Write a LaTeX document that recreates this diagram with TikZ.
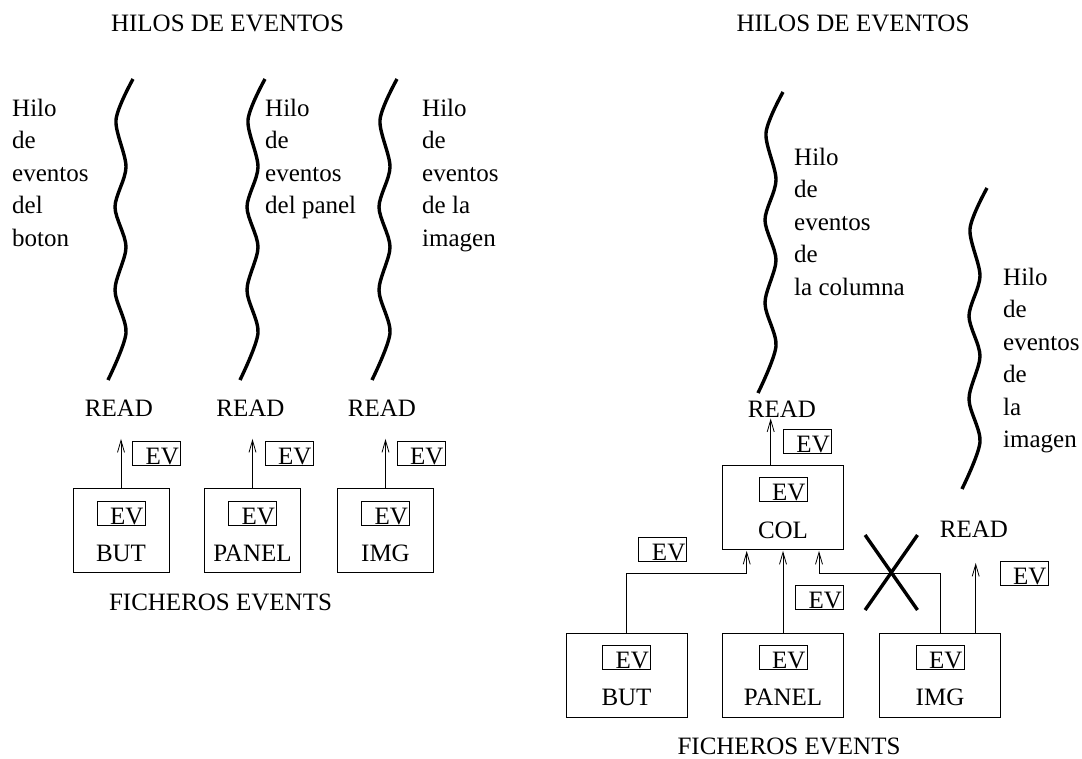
\documentclass[tikz,border=0pt]{standalone}
\usepackage{fontspec}
\setmainfont{Liberation Serif}
\usepackage{tikz}
\usetikzlibrary{
  arrows.meta,
  positioning,
  shapes.misc
}
\tikzset{
  evbox/.style={draw, line width=0.8pt, inner xsep=1.5pt, inner ysep=0pt,
    text width=45pt, align=right, text height=23pt, text depth=1pt},
  filebox/.style={draw, line width=0.8pt, inner sep=0pt,
    minimum width=#1, minimum height=84pt},
  filebox/.default=96pt,
  tag/.style={inner sep=0pt},
  flow/.style={line width=0.8pt, -{Straight Barb[length=12pt,width=7pt]}},
  wavy/.style={line width=3.4pt},
  hilo/.pic={
    \draw[wavy] plot[smooth] coordinates
      {(0,0) (-17,41) (-7,88) (-18,128) (-7,168) (-18,211) (-7,254) (-25,301)};
  }
}

\begin{document}
\begin{tikzpicture}[x=1pt, y=-1pt, font=\fontsize{25}{32.5}\selectfont]
\useasboundingbox (0,0) rectangle (1082,758);

% ---- un hilo por fichero ----
\node[tag] (titleL) at (227.5,23) {HILOS DE EVENTOS};

\pic at (133,79) {hilo};
\pic at (265,79) {hilo};
\pic at (397,79) {hilo};

\node[tag, anchor=north west, align=left] (txtBut) at (12,98.9) {Hilo\\de\\eventos\\del\\boton};
\node[tag, anchor=north west, align=left] (txtPanel) at (265,98.9) {Hilo\\de\\eventos\\del panel};
\node[tag, anchor=north west, align=left] (txtImg) at (422,98.9) {Hilo\\de\\eventos\\de la\\imagen};

\node[tag] (readBut) at (119,408) {READ};
\node[tag] (readPanel) at (250.5,408) {READ};
\node[tag] (readImg) at (382,408) {READ};

\node[filebox] (but) at (121,530) {};
\node[evbox, below=13pt of but.north] (butEv) {EV};
\node[tag, below=19.5pt of butEv] {BUT};

\node[filebox] (panel) at (252.5,530) {};
\node[evbox, below=13pt of panel.north] (panelEv) {EV};
\node[tag, below=19.5pt of panelEv] {PANEL};

\node[filebox] (img) at (385.5,530) {};
\node[evbox, below=13pt of img.north] (imgEv) {EV};
\node[tag, below=19.5pt of imgEv] {IMG};

\draw[flow, shorten >=22.5pt] (but.north) -- (but.north |- readBut.south);
\draw[flow, shorten >=22.5pt] (panel.north) -- (panel.north |- readPanel.south);
\draw[flow, shorten >=22.5pt] (img.north) -- (img.north |- readImg.south);

\node[evbox] (evBut) at (156.5,453) {EV};
\node[evbox] (evPanel) at (289,453) {EV};
\node[evbox] (evImg) at (421,453) {EV};

\node[tag] (filesL) at (220.5,602) {FICHEROS EVENTS};

% ---- hilo de la columna ----
\node[tag] (titleR) at (853,23) {HILOS DE EVENTOS};

\pic at (783,92) {hilo};
\pic at (987,188) {hilo};

\node[tag, anchor=north west, align=left] (txtCol) at (794,147.9) {Hilo\\de\\eventos\\de\\la columna};
\node[tag, anchor=north west, align=left] (txtImgR) at (1003,267.9) {Hilo\\de\\eventos\\de\\la\\imagen};

\node[filebox=121pt] (col) at (783,507) {};
\node[evbox, below=12pt of col.north] (colEv) {EV};
\node[tag, below=20pt of colEv] {COL};

\node[filebox=121pt] (butR) at (626.5,675.5) {};
\node[evbox, below=12pt of butR.north] (butREv) {EV};
\node[tag, below=19pt of butREv] {BUT};

\node[filebox=121pt] (panelR) at (783,675.5) {};
\node[evbox, below=12pt of panelR.north] (panelREv) {EV};
\node[tag, below=19pt of panelREv] {PANEL};

\node[filebox=121pt] (imgR) at (940,675.5) {};
\node[evbox, below=12pt of imgR.north] (imgREv) {EV};
\node[tag, below=19pt of imgREv] {IMG};

\node[tag] (readCol) at (782,409) {READ};
\node[tag] (readImgR) at (974,529.5) {READ};

\coordinate (colOut) at ([xshift=-12.3pt]col.north);
\coordinate (imgOut) at ([xshift=35.7pt]imgR.north);
\draw[flow, shorten >=1pt] (colOut) -- (colOut |- readCol.south);
\draw[flow, shorten >=25pt] (imgOut) -- (imgOut |- readImgR.south);

\draw[flow, shorten >=1.5pt] (butR.north) -- ++(0,-60) -| ([xshift=-36.3pt]col.south);
\draw[flow, shorten >=1.5pt] (panelR) -- (col);
\draw[flow, shorten >=1.5pt] (imgR.north) -- ++(0,-60) -| ([xshift=36pt]col.south);

% el hilo de la imagen ya no llega a COL
\node[draw, cross out, line width=3.4pt, inner sep=0pt,
  minimum width=49pt, minimum height=71.6pt] (cut) at (891.3,572.5) {};

\node[evbox] (evColR) at (807.3,441) {EV};
\node[evbox] (evButR) at (662.8,549.2) {EV};
\node[evbox] (evPanelR) at (819.5,597.3) {EV};
\node[evbox] (evImgR) at (1024,573.3) {EV};

\node[tag] (filesR) at (789,746) {FICHEROS EVENTS};
\end{tikzpicture}
\end{document}
